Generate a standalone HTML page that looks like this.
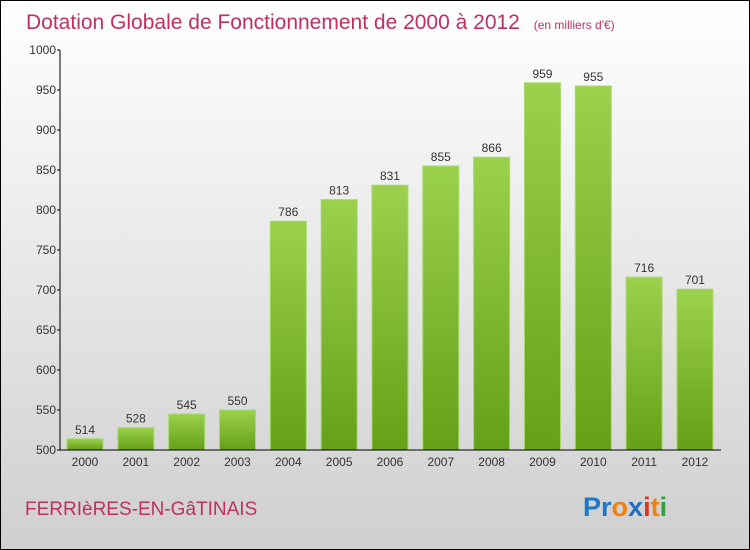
<!DOCTYPE html>
<html><head><meta charset="utf-8"><style>
body{margin:0;width:750px;height:550px;overflow:hidden}
svg{display:block;font-family:"Liberation Sans",sans-serif}
</style></head><body>
<svg width="750" height="550">
<defs>
<linearGradient id="bg" x1="0" y1="0" x2="0" y2="1"><stop offset="0" stop-color="#ffffff"/><stop offset="1" stop-color="#cfcfcf"/></linearGradient>
<linearGradient id="bar" x1="0" y1="0" x2="0" y2="1"><stop offset="0" stop-color="#9bd14d"/><stop offset="1" stop-color="#64a018"/></linearGradient>
</defs>
<rect x="0.5" y="0.5" width="749" height="549" fill="url(#bg)" stroke="#000"/>
<text x="26" y="29" font-size="21" fill="#c0305f">Dotation Globale de Fonctionnement de 2000 à 2012 <tspan font-size="12" dx="8">(en milliers d'€)</tspan></text>
<g id="plot"></g>
<text x="25" y="515" font-size="19" fill="#c0305f">FERRIèRES-EN-GâTINAIS</text>
<text x="583" y="516" font-size="27" font-weight="bold"><tspan fill="#1f78c8">Pr</tspan><tspan fill="#f08010">o</tspan><tspan fill="#1f6fc0">x</tspan><tspan fill="#e03020">i</tspan><tspan fill="#f08010">t</tspan><tspan fill="#30a040">i</tspan></text>
</svg>
<script>
const years=["2000","2001","2002","2003","2004","2005","2006","2007","2008","2009","2010","2011","2012"];
const values=[514,528,545,550,786,813,831,855,866,959,955,716,701];
const ticks=[500,550,600,650,700,750,800,850,900,950,1000];
const NS="http://www.w3.org/2000/svg";
const g=document.getElementById('plot');
const y=v=>450-(v-500)*0.8;
const x=i=>85+i*50.83;
function mk(t,a,txt){const e=document.createElementNS(NS,t);for(const k in a)e.setAttribute(k,a[k]);if(txt!==undefined)e.textContent=txt;g.appendChild(e);return e;}
values.forEach((v,i)=>{
 const r=mk('rect',{x:x(i)-18,y:y(v),width:36,height:450-y(v),fill:'url(#bar)',stroke:'#a8d870','stroke-width':1});
 
 
 const l=mk('text',{x:x(i),y:y(v)-5,'text-anchor':'middle','font-size':12,fill:'#333'},v);
 
 
 const xl=mk('text',{x:x(i),y:466,'text-anchor':'middle','font-size':12,fill:'#333'},years[i]);
 
 
});
ticks.forEach(t=>{
 const tk=mk('line',{x1:57,x2:60,y1:y(t),y2:y(t),stroke:'#000'});
 
 
 const tl=mk('text',{x:56,y:y(t)+4,'text-anchor':'end','font-size':12,fill:'#333'},t);
 
 
});
const ya=mk('line',{x1:60,x2:60,y1:50,y2:450,stroke:'#000'});


const xa=mk('line',{x1:60,x2:721,y1:450,y2:450,stroke:'#000'});


</script>
</body></html>
